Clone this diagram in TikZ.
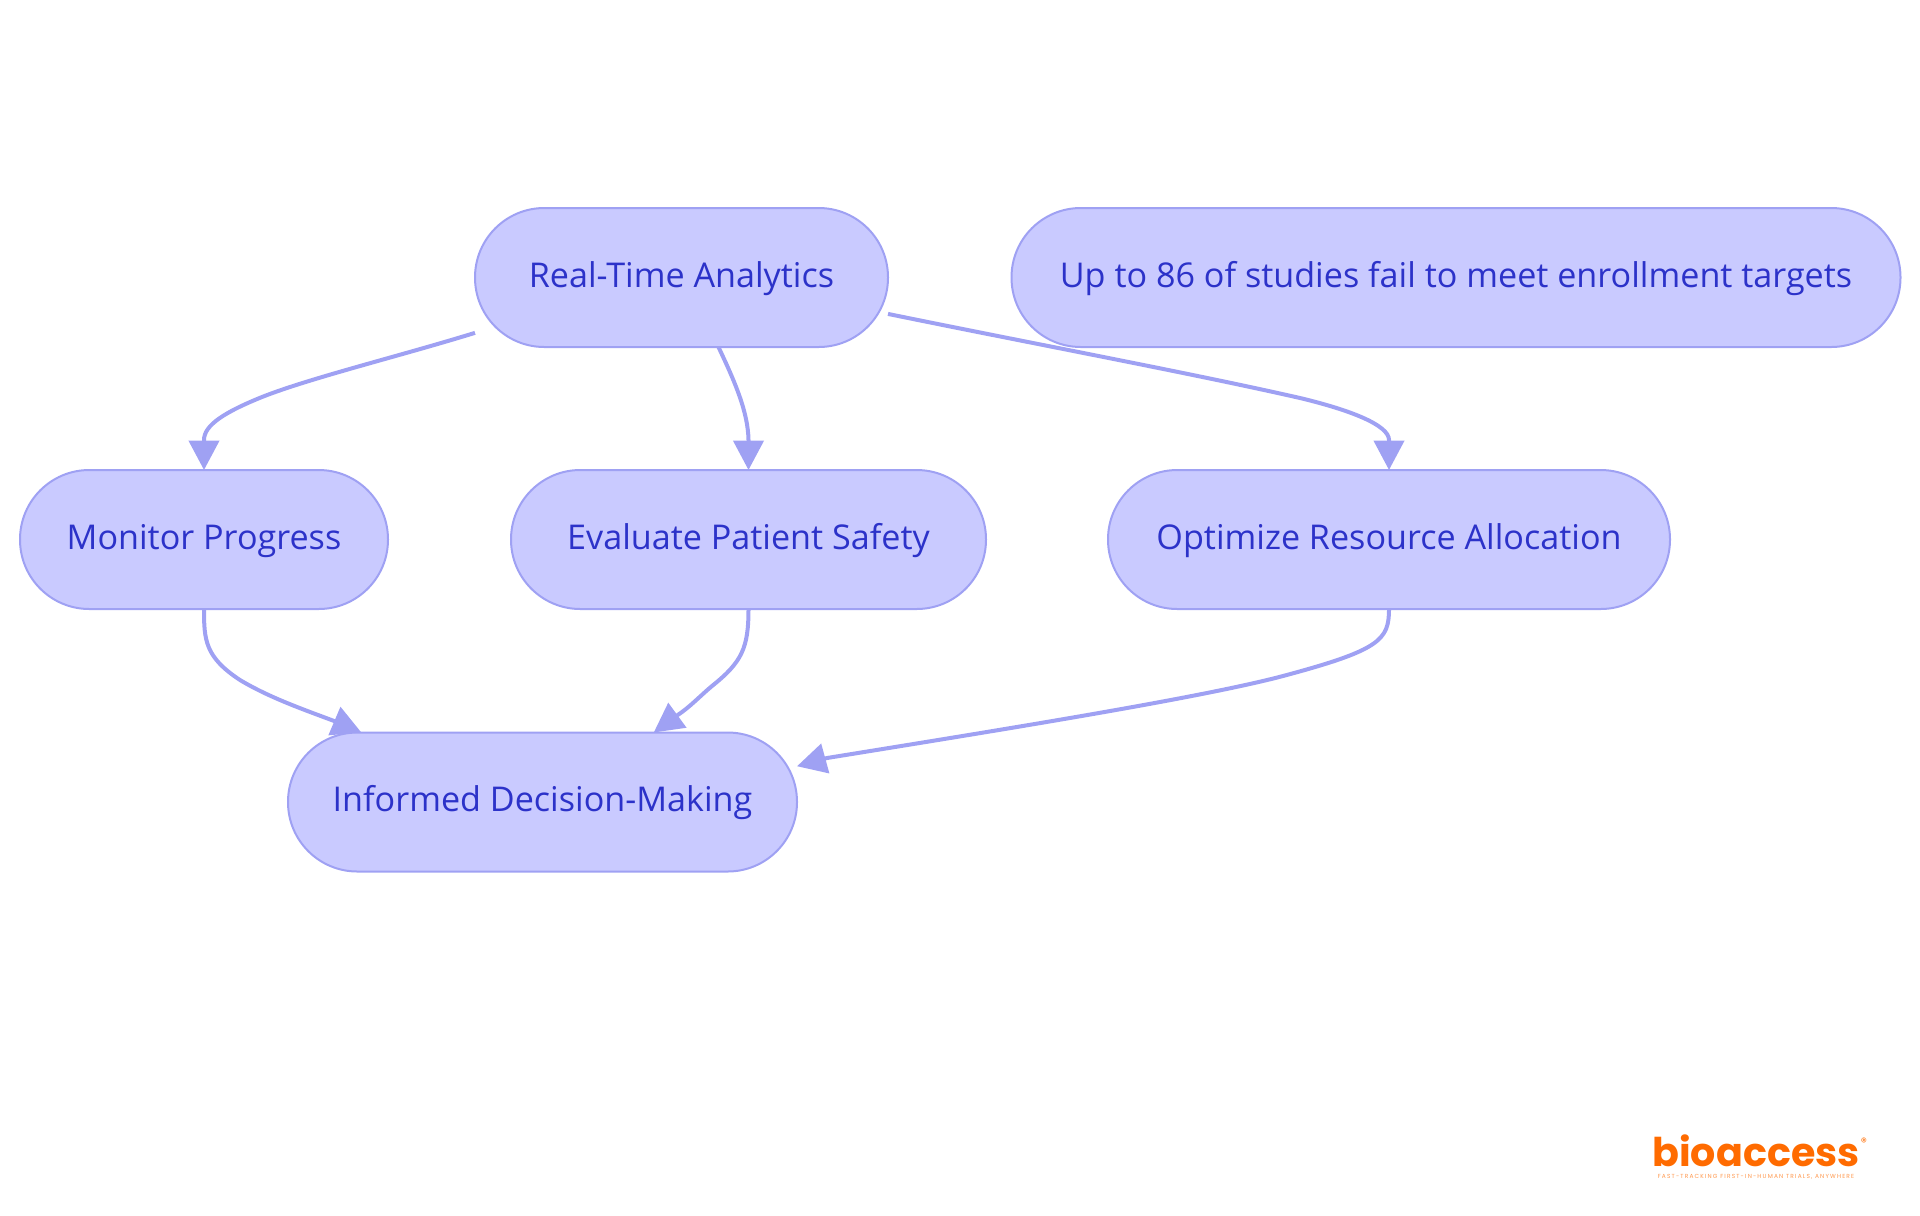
\documentclass[tikz,border=0pt]{standalone}
\usepackage{fontspec}
\setmainfont{Open Sans}
\newfontfamily\logofont{Poppins}
\newfontfamily\tagfont[LetterSpace=20]{Poppins}
\usetikzlibrary{arrows.meta}

\definecolor{pillfill}{HTML}{C9CAFF}
\definecolor{pilledge}{HTML}{9FA1F3}
\definecolor{pilltext}{HTML}{2C32C9}
\definecolor{logoorange}{HTML}{FF6B00}

\tikzset{
  pill/.style={draw=pilledge, fill=pillfill, text=pilltext, line width=1.5pt, rounded corners=52pt,
    minimum height=104.25pt, inner sep=0pt, outer sep=0pt, text height=20pt, text depth=5.2pt,
    font=\fontsize{25.6}{30}\selectfont},
  conn/.style={draw=pilledge, line width=3pt, -{Triangle[length=22pt,width=22.5pt]}}
}

\begin{document}
\begin{tikzpicture}[x=0.75pt,y=-0.75pt]
  \useasboundingbox (0,0) rectangle (1920,1215);

  \draw (681.5,277.5) node[pill,minimum width=309.75pt] (realtime) {Real-Time Analytics};
  \draw (1456,277.5) node[pill,minimum width=666.75pt] (studies) {Up to 86 of studies fail to meet enrollment targets};
  \draw (204,539.5) node[pill,minimum width=276pt] (monitor) {Monitor Progress};
  \draw (748.5,539.5) node[pill,minimum width=356.25pt] (evaluate) {Evaluate Patient Safety};
  \draw (1389,539.5) node[pill,minimum width=421.5pt] (optimize) {Optimize Resource Allocation};
  \draw (542.5,802) node[pill,minimum width=381.75pt] (decision) {Informed Decision-Making};

  \draw[conn] (realtime.195.3) .. controls (400,356) and (310,378) .. (262,397) .. controls (225,412) and (204,425) .. (204,440) -- (monitor.north);
  \draw[conn] (realtime.-62.9) .. controls (735,382) and (748,412) .. (748.5,440) -- (evaluate.north);
  \draw[conn] (realtime.-10.6) .. controls (1040,345) and (1190,373) .. (1300,398) .. controls (1350,410) and (1389,425) .. (1389,440) -- (optimize.north);
  \draw[conn] (monitor.south) .. controls (204,640) and (205,657) .. (240,680) .. controls (270,698) and (305,710) .. (335.5,721.5) -- (decision.159);
  \draw[conn] (evaluate.south) .. controls (748.5,648) and (742,662) .. (712,686) .. controls (700,696) and (690,707) .. (677,715.5) -- (decision.32.2);
  \draw[conn] (optimize.south) .. controls (1389,640) and (1380,650) .. (1283,676) .. controls (1200,698) and (1000,730) .. (827,758) -- (decision.8.9);

  \node[text=logoorange, font=\logofont\bfseries\fontsize{29.7}{34}\selectfont, inner sep=0pt] (logo) at (1756,1151) {bioaccess};
  \node[text=logoorange, font=\logofont\fontsize{9}{10}\selectfont, inner sep=0pt] (logomark) at (1864,1142) {®};
  \node[text=logoorange!70, font=\tagfont\fontsize{4.4}{5}\selectfont, inner sep=0pt] (logotag) at (1756,1177) {FAST-TRACKING FIRST-IN-HUMAN TRIALS, ANYWHERE};
\end{tikzpicture}
\end{document}
